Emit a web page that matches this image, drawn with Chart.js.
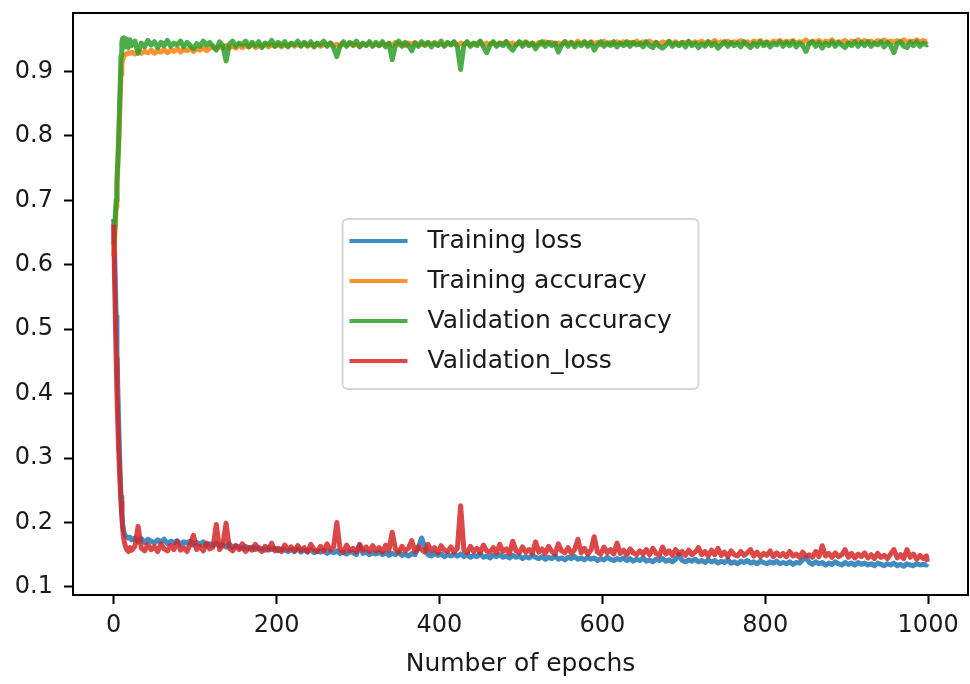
<!DOCTYPE html>
<html>
<head>
<meta charset="utf-8">
<title>Training curves</title>
<script src="https://cdn.jsdelivr.net/npm/chart.js@4.4.1/dist/chart.umd.min.js"></script>
<style>
  html, body { margin: 0; padding: 0; background: #fff; }
  canvas { display: block; }
</style>
</head>
<body>
<canvas id="lossChart" width="970" height="684"></canvas>
<script>
// sampled epochs: every epoch during the first drop, then every 4th
const epochs = [
  0, 1, 2, 3, 4, 5, 6, 7, 8, 9, 10, 11, 12, 13, 14, 16, 18, 20,
  22, 26, 30, 34, 38, 42, 46, 50, 54, 58, 62, 66, 70, 74, 78, 82, 86, 90, 94, 98, 102, 106, 110, 114, 118,
  122, 126, 130, 134, 138, 142, 146, 150, 154, 158, 162, 166, 170, 174, 178, 182, 186, 190, 194, 198, 202, 206, 210, 214, 218,
  222, 226, 230, 234, 238, 242, 246, 250, 254, 258, 262, 266, 270, 274, 278, 282, 286, 290, 294, 298, 302, 306, 310, 314, 318,
  322, 326, 330, 334, 338, 342, 346, 350, 354, 358, 362, 366, 370, 374, 378, 382, 386, 390, 394, 398, 402, 406, 410, 414, 418,
  422, 426, 430, 434, 438, 442, 446, 450, 454, 458, 462, 466, 470, 474, 478, 482, 486, 490, 494, 498, 502, 506, 510, 514, 518,
  522, 526, 530, 534, 538, 542, 546, 550, 554, 558, 562, 566, 570, 574, 578, 582, 586, 590, 594, 598, 602, 606, 610, 614, 618,
  622, 626, 630, 634, 638, 642, 646, 650, 654, 658, 662, 666, 670, 674, 678, 682, 686, 690, 694, 698, 702, 706, 710, 714, 718,
  722, 726, 730, 734, 738, 742, 746, 750, 754, 758, 762, 766, 770, 774, 778, 782, 786, 790, 794, 798, 802, 806, 810, 814, 818,
  822, 826, 830, 834, 838, 842, 846, 850, 854, 858, 862, 866, 870, 874, 878, 882, 886, 890, 894, 898, 902, 906, 910, 914, 918,
  922, 926, 930, 934, 938, 942, 946, 950, 954, 958, 962, 966, 970, 974, 978, 982, 986, 990, 994, 998,
  999
];

const trainLoss = [
  0.671, 0.625, 0.575, 0.520, 0.465, 0.410, 0.360, 0.315, 0.275, 0.240, 0.215, 0.198, 0.188, 0.183, 0.180, 0.178, 0.176, 0.177,
  0.173, 0.176, 0.170, 0.175, 0.169, 0.174, 0.171, 0.168, 0.173, 0.170, 0.174, 0.167, 0.171, 0.169, 0.172, 0.166, 0.170, 0.168, 0.171, 0.165, 0.169, 0.166, 0.170, 0.164, 0.167,
  0.165, 0.168, 0.163, 0.166, 0.162, 0.167, 0.161, 0.164, 0.162, 0.159, 0.163, 0.160, 0.162, 0.158, 0.161, 0.159, 0.157, 0.161, 0.158, 0.160, 0.156, 0.159, 0.157, 0.155, 0.158,
  0.156, 0.159, 0.154, 0.157, 0.155, 0.158, 0.153, 0.156, 0.154, 0.157, 0.152, 0.155, 0.153, 0.156, 0.152, 0.154, 0.151, 0.155, 0.153, 0.150, 0.165, 0.152, 0.154, 0.150, 0.153,
  0.151, 0.154, 0.150, 0.153, 0.149, 0.152, 0.150, 0.154, 0.149, 0.151, 0.148, 0.152, 0.150, 0.161, 0.176, 0.163, 0.150, 0.148, 0.152, 0.149, 0.151, 0.147, 0.150, 0.148, 0.151,
  0.148, 0.151, 0.147, 0.150, 0.146, 0.149, 0.147, 0.151, 0.146, 0.148, 0.145, 0.149, 0.147, 0.150, 0.146, 0.148, 0.145, 0.149, 0.146, 0.148, 0.144, 0.147, 0.145, 0.149, 0.146,
  0.144, 0.147, 0.143, 0.146, 0.144, 0.148, 0.143, 0.145, 0.142, 0.146, 0.144, 0.147, 0.143, 0.145, 0.142, 0.146, 0.143, 0.145, 0.141, 0.144, 0.142, 0.146, 0.143, 0.141, 0.144,
  0.142, 0.145, 0.141, 0.144, 0.140, 0.143, 0.141, 0.145, 0.140, 0.142, 0.139, 0.143, 0.141, 0.144, 0.140, 0.142, 0.139, 0.143, 0.150, 0.141, 0.139, 0.142, 0.140, 0.143, 0.139,
  0.141, 0.138, 0.142, 0.139, 0.141, 0.137, 0.140, 0.138, 0.142, 0.137, 0.139, 0.136, 0.140, 0.138, 0.141, 0.137, 0.139, 0.136, 0.140, 0.138, 0.136, 0.139, 0.137, 0.140, 0.136,
  0.138, 0.136, 0.139, 0.135, 0.138, 0.137, 0.142, 0.146, 0.138, 0.135, 0.139, 0.136, 0.138, 0.134, 0.137, 0.135, 0.139, 0.136, 0.134, 0.138, 0.135, 0.137, 0.134, 0.138, 0.135,
  0.137, 0.134, 0.136, 0.133, 0.137, 0.135, 0.133, 0.136, 0.134, 0.137, 0.133, 0.135, 0.132, 0.136, 0.134, 0.133, 0.136, 0.134, 0.135, 0.134,
  0.136
];

const trainAcc = [
  0.613, 0.635, 0.660, 0.690, 0.720, 0.750, 0.780, 0.820, 0.860, 0.895, 0.912, 0.918, 0.921, 0.924, 0.926, 0.927, 0.929, 0.928,
  0.930, 0.927, 0.932, 0.928, 0.931, 0.929, 0.933, 0.928, 0.932, 0.930, 0.934, 0.929, 0.933, 0.931, 0.935, 0.930, 0.934, 0.932, 0.936, 0.931, 0.935, 0.933, 0.937, 0.932, 0.936,
  0.938, 0.935, 0.939, 0.936, 0.940, 0.937, 0.939, 0.936, 0.941, 0.937, 0.940, 0.938, 0.942, 0.937, 0.940, 0.939, 0.943, 0.938, 0.941, 0.939, 0.942, 0.938, 0.941, 0.940, 0.943,
  0.939, 0.942, 0.940, 0.944, 0.939, 0.942, 0.940, 0.943, 0.939, 0.942, 0.941, 0.944, 0.940, 0.942, 0.939, 0.943, 0.941, 0.944, 0.940, 0.942, 0.939, 0.943, 0.941, 0.944, 0.940,
  0.943, 0.940, 0.944, 0.941, 0.943, 0.940, 0.945, 0.941, 0.943, 0.940, 0.944, 0.942, 0.945, 0.941, 0.943, 0.940, 0.944, 0.942, 0.945, 0.941, 0.943, 0.940, 0.944, 0.942, 0.945,
  0.941, 0.944, 0.942, 0.945, 0.941, 0.943, 0.942, 0.946, 0.941, 0.944, 0.942, 0.945, 0.941, 0.944, 0.943, 0.946, 0.942, 0.944, 0.941, 0.945, 0.943, 0.946, 0.942, 0.944, 0.941,
  0.945, 0.942, 0.946, 0.943, 0.945, 0.941, 0.944, 0.942, 0.946, 0.943, 0.945, 0.942, 0.947, 0.943, 0.945, 0.942, 0.946, 0.943, 0.945, 0.942, 0.947, 0.943, 0.945, 0.942, 0.946,
  0.943, 0.946, 0.942, 0.945, 0.943, 0.947, 0.942, 0.946, 0.944, 0.947, 0.943, 0.945, 0.942, 0.946, 0.944, 0.947, 0.943, 0.946, 0.942, 0.945, 0.944, 0.947, 0.943, 0.946, 0.944,
  0.947, 0.943, 0.946, 0.944, 0.948, 0.943, 0.946, 0.944, 0.947, 0.943, 0.946, 0.945, 0.948, 0.944, 0.946, 0.943, 0.947, 0.945, 0.948, 0.944, 0.946, 0.943, 0.947, 0.945, 0.948,
  0.944, 0.947, 0.945, 0.948, 0.944, 0.946, 0.945, 0.949, 0.944, 0.947, 0.945, 0.948, 0.944, 0.947, 0.945, 0.949, 0.944, 0.946, 0.945, 0.948, 0.944, 0.947, 0.945, 0.949, 0.945,
  0.948, 0.945, 0.947, 0.944, 0.948, 0.946, 0.949, 0.945, 0.947, 0.945, 0.948, 0.946, 0.949, 0.945, 0.947, 0.946, 0.949, 0.945, 0.948, 0.946,
  0.947
];

const valAcc = [
  0.631, 0.650, 0.675, 0.700, 0.730, 0.760, 0.790, 0.835, 0.880, 0.925, 0.945, 0.951, 0.940, 0.952, 0.938, 0.950, 0.937, 0.949,
  0.940, 0.947, 0.928, 0.944, 0.938, 0.948, 0.941, 0.946, 0.937, 0.945, 0.940, 0.948, 0.939, 0.944, 0.941, 0.947, 0.938, 0.945, 0.940, 0.935, 0.943, 0.939, 0.947, 0.941, 0.945,
  0.939, 0.933, 0.946, 0.940, 0.916, 0.942, 0.947, 0.939, 0.944, 0.941, 0.947, 0.938, 0.945, 0.940, 0.946, 0.937, 0.944, 0.941, 0.948, 0.939, 0.945, 0.940, 0.946, 0.938, 0.944,
  0.941, 0.947, 0.939, 0.945, 0.940, 0.946, 0.938, 0.944, 0.941, 0.947, 0.939, 0.944, 0.937, 0.923, 0.940, 0.946, 0.939, 0.945, 0.941, 0.947, 0.938, 0.944, 0.940, 0.946, 0.939,
  0.945, 0.940, 0.946, 0.938, 0.944, 0.918, 0.941, 0.947, 0.939, 0.945, 0.940, 0.932, 0.944, 0.939, 0.946, 0.941, 0.945, 0.938, 0.944, 0.940, 0.947, 0.939, 0.945, 0.941, 0.946,
  0.938, 0.903, 0.941, 0.946, 0.939, 0.944, 0.940, 0.947, 0.938, 0.929, 0.941, 0.946, 0.939, 0.944, 0.940, 0.946, 0.938, 0.933, 0.941, 0.946, 0.939, 0.945, 0.940, 0.944, 0.935,
  0.942, 0.946, 0.939, 0.945, 0.940, 0.944, 0.930, 0.941, 0.946, 0.939, 0.945, 0.938, 0.944, 0.940, 0.946, 0.939, 0.945, 0.933, 0.941, 0.946, 0.939, 0.944, 0.940, 0.946, 0.938,
  0.944, 0.940, 0.946, 0.939, 0.945, 0.941, 0.944, 0.938, 0.946, 0.940, 0.937, 0.945, 0.939, 0.936, 0.941, 0.946, 0.939, 0.944, 0.940, 0.945, 0.938, 0.946, 0.940, 0.944, 0.937,
  0.943, 0.939, 0.946, 0.940, 0.944, 0.936, 0.941, 0.946, 0.939, 0.945, 0.940, 0.944, 0.938, 0.946, 0.941, 0.937, 0.944, 0.939, 0.946, 0.940, 0.945, 0.938, 0.944, 0.941, 0.946,
  0.939, 0.945, 0.940, 0.946, 0.938, 0.944, 0.940, 0.931, 0.943, 0.946, 0.939, 0.945, 0.936, 0.944, 0.940, 0.946, 0.939, 0.945, 0.941, 0.937, 0.944, 0.940, 0.946, 0.939, 0.945,
  0.940, 0.946, 0.939, 0.944, 0.941, 0.946, 0.938, 0.945, 0.940, 0.929, 0.943, 0.946, 0.939, 0.937, 0.945, 0.940, 0.946, 0.939, 0.944, 0.941,
  0.942
];

const valLoss = [
  0.662, 0.580, 0.520, 0.455, 0.400, 0.355, 0.315, 0.285, 0.255, 0.232, 0.210, 0.192, 0.178, 0.170, 0.165, 0.158, 0.155, 0.161,
  0.157, 0.163, 0.194, 0.160, 0.156, 0.166, 0.158, 0.162, 0.155, 0.167, 0.159, 0.156, 0.164, 0.158, 0.170, 0.157, 0.161, 0.155, 0.166, 0.180, 0.158, 0.163, 0.156, 0.168, 0.159,
  0.162, 0.197, 0.158, 0.165, 0.199, 0.160, 0.156, 0.164, 0.158, 0.167, 0.155, 0.161, 0.157, 0.166, 0.159, 0.155, 0.163, 0.157, 0.168, 0.156, 0.160, 0.155, 0.165, 0.158, 0.162,
  0.155, 0.164, 0.157, 0.161, 0.154, 0.166, 0.158, 0.155, 0.163, 0.156, 0.167, 0.157, 0.162, 0.200, 0.158, 0.154, 0.165, 0.156, 0.160, 0.154, 0.166, 0.157, 0.162, 0.155, 0.164,
  0.156, 0.161, 0.154, 0.165, 0.157, 0.185, 0.159, 0.154, 0.163, 0.156, 0.160, 0.172, 0.155, 0.162, 0.158, 0.154, 0.166, 0.156, 0.161, 0.153, 0.164, 0.157, 0.155, 0.162, 0.154,
  0.160, 0.226, 0.157, 0.153, 0.163, 0.155, 0.160, 0.153, 0.165, 0.156, 0.154, 0.161, 0.153, 0.166, 0.155, 0.159, 0.152, 0.171, 0.156, 0.153, 0.162, 0.154, 0.158, 0.152, 0.170,
  0.154, 0.159, 0.152, 0.163, 0.155, 0.151, 0.167, 0.156, 0.153, 0.161, 0.152, 0.158, 0.174, 0.153, 0.160, 0.151, 0.157, 0.178, 0.154, 0.151, 0.162, 0.153, 0.158, 0.151, 0.168,
  0.152, 0.157, 0.150, 0.159, 0.153, 0.150, 0.156, 0.151, 0.158, 0.150, 0.160, 0.152, 0.149, 0.162, 0.151, 0.156, 0.149, 0.158, 0.151, 0.155, 0.149, 0.157, 0.150, 0.154, 0.161,
  0.150, 0.155, 0.148, 0.157, 0.150, 0.160, 0.149, 0.154, 0.147, 0.156, 0.150, 0.148, 0.155, 0.149, 0.153, 0.158, 0.148, 0.154, 0.147, 0.152, 0.149, 0.156, 0.147, 0.153, 0.148,
  0.152, 0.147, 0.155, 0.148, 0.151, 0.146, 0.154, 0.148, 0.150, 0.146, 0.155, 0.147, 0.164, 0.148, 0.152, 0.146, 0.153, 0.147, 0.150, 0.158, 0.146, 0.152, 0.145, 0.151, 0.147,
  0.153, 0.145, 0.150, 0.144, 0.152, 0.146, 0.149, 0.144, 0.151, 0.158, 0.145, 0.150, 0.144, 0.158, 0.146, 0.151, 0.143, 0.149, 0.144, 0.148,
  0.139
];

const seriesLabels = ['Training loss', 'Training accuracy', 'Validation accuracy', 'Validation_loss'];
const seriesColors = ['rgba(31,119,180,0.85)', 'rgba(255,127,14,0.85)', 'rgba(44,160,44,0.85)', 'rgba(214,39,40,0.85)'];
const xTicks = [0, 200, 400, 600, 800, 1000];
const yTicks = [0.1, 0.2, 0.3, 0.4, 0.5, 0.6, 0.7, 0.8, 0.9];

const FONT = "'DejaVu Sans', sans-serif";
const TEXT = '#1a1a1a';

function toPoints(values) {
    return epochs.map((e, i) => ({ x: e, y: values[i] }));
}

// closes the box: top and right spines
const framePlugin = {
    id: 'frame',
    afterDatasetsDraw(chart) {
        const { ctx, chartArea: a } = chart;
        ctx.save();
        ctx.strokeStyle = '#000';
        ctx.lineWidth = 2;
        ctx.strokeRect(a.left, a.top, a.right - a.left, a.bottom - a.top);
        ctx.restore();
    }
};

// legend box centred in the plot area
const centerLegend = {
    id: 'centerLegend',
    afterDraw(chart) {
        const { ctx, chartArea: a } = chart;
        const w = 356, h = 170, rowH = 40;
        const x0 = (a.left + a.right) / 2 - w / 2;
        const y0 = (a.top + a.bottom) / 2 - h / 2;
        ctx.save();
        ctx.beginPath();
        ctx.roundRect(x0, y0, w, h, 5);
        ctx.fillStyle = 'rgba(255,255,255,0.8)';
        ctx.fill();
        ctx.strokeStyle = '#d6d6d6';
        ctx.lineWidth = 2;
        ctx.stroke();
        ctx.font = '25px ' + FONT;
        ctx.textBaseline = 'middle';
        ctx.fillStyle = TEXT;
        chart.data.datasets.forEach((ds, i) => {
            const y = y0 + 22 + i * rowH;
            ctx.strokeStyle = ds.borderColor;
            ctx.lineWidth = 4;
            ctx.beginPath();
            ctx.moveTo(x0 + 7, y);
            ctx.lineTo(x0 + 65, y);
            ctx.stroke();
            ctx.fillText(ds.label, x0 + 85, y);
        });
        ctx.restore();
    }
};

const drawOrder = [3, 2, 1, 0];
const datasets = [trainLoss, trainAcc, valAcc, valLoss].map((vals, i) => ({
    label: seriesLabels[i],
    data: toPoints(vals),
    borderColor: seriesColors[i],
    borderWidth: 5,
    borderJoinStyle: 'round',
    pointRadius: 0,
    tension: 0,
    fill: false,
    order: drawOrder[i]
}));

const axisGrid = {
    drawOnChartArea: false,
    drawTicks: true,
    tickLength: 9,
    tickWidth: 2,
    tickColor: '#000'
};

// fixed axis box sizes, no extra room for edge labels
function fixBox(size) {
    return s => {
        if (s.isHorizontal()) s.height = size; else s.width = size;
        s.paddingTop = 0;
        s.paddingBottom = 0;
        s.paddingLeft = 0;
        s.paddingRight = 0;
    };
}

new Chart(document.getElementById('lossChart'), {
    type: 'line',
    data: { datasets: datasets },
    options: {
        responsive: false,
        animation: false,
        devicePixelRatio: 1,
        layout: { padding: { top: 13, right: 2, left: 0, bottom: 0 } },
        plugins: {
            legend: { display: false },
            tooltip: { enabled: false }
        },
        scales: {
            x: {
                type: 'linear',
                min: -49.95,
                max: 1048.95,
                afterBuildTicks: s => { s.ticks = xTicks.map(v => ({ value: v })); },
                afterFit: fixBox(89),
                grid: axisGrid,
                border: { color: '#000', width: 2 },
                ticks: {
                    font: { family: FONT, size: 24 },
                    color: TEXT,
                    padding: 7,
                    maxRotation: 0,
                    callback: v => String(v)
                },
                title: {
                    display: true,
                    text: 'Number of epochs',
                    font: { family: FONT, size: 25 },
                    color: TEXT,
                    padding: { top: 0, bottom: 5 }
                }
            },
            y: {
                min: 0.0875,
                max: 0.9906,
                afterBuildTicks: s => { s.ticks = yTicks.map(v => ({ value: v })); },
                afterFit: fixBox(73),
                grid: axisGrid,
                border: { color: '#000', width: 2 },
                ticks: {
                    font: { family: FONT, size: 24 },
                    color: TEXT,
                    padding: 11,
                    callback: v => v.toFixed(1)
                }
            }
        }
    },
    plugins: [framePlugin, centerLegend]
});
</script>
</body>
</html>
